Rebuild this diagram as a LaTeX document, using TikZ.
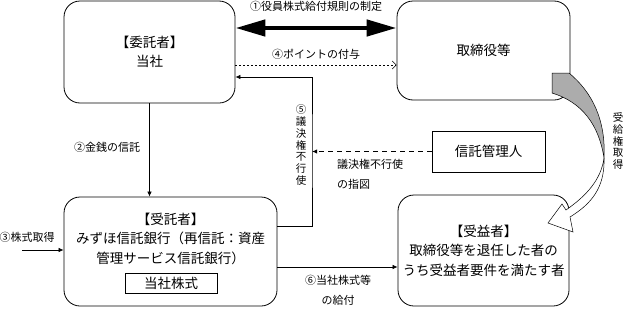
\documentclass[tikz,border=0pt]{standalone}
\usepackage{fontspec}
\newfontfamily\jpfont{Noto Sans CJK JP}
\usepackage{tikz}
\usetikzlibrary{arrows.meta, positioning, calc}

\begin{document}
\begin{tikzpicture}[
      x=1pt, y=-1pt,
      font=\jpfont\fontsize{13.5}{19.5}\selectfont,
      party/.style={draw, rounded corners=16pt, align=center, inner sep=0pt,
                    line width=0.8pt},
      plainbox/.style={draw, align=center, inner sep=0pt, line width=0.8pt},
      lbl/.style={font=\jpfont\fontsize{11}{20}\selectfont, inner sep=1pt},
      vlbl/.style={font=\jpfont\fontsize{10.5}{11.8}\selectfont, align=center,
                   inner sep=0pt},
      a/.style={line width=0.7pt, -{Latex[length=5pt,width=4.5pt]}},
    ]
    \useasboundingbox (0,0) rectangle (623,308);

    % ---- parties ----
    \node[party, minimum width=171pt, minimum height=102pt] (itaku) at (149.5,52)
         {【委託者】\\当社};
    \node[party, minimum width=173pt, minimum height=99pt] (torishimari) at (483.5,50.5)
         {取締役等};
    \node[party, minimum width=213pt, minimum height=109pt] (jutaku) at (170.5,251.5) {};
    \node[align=center, inner sep=0pt] (jutakutxt) at (170.5,238.5)
         {【受託者】\\みずほ信託銀行（再信託：資産\\管理サービス信託銀行）};
    \node[plainbox, minimum width=92pt, minimum height=20pt] (kabu) at (171,283)
         {当社株式};
    \node[party, minimum width=171pt, minimum height=111pt] (juekisha) at (483.5,250.5)
         {【受益者】\\取締役等を退任した者の\\うち受益者要件を満たす者};
    \node[plainbox, minimum width=113pt, minimum height=41pt] (kanrinin) at (488.5,151.5)
         {信託管理人};

    % ---- helper points ----
    \coordinate (vbar) at (312,150);
    \coordinate (src) at (22,250);

    % ---- arcs ----
    \draw[line width=4.5pt, {Triangle[length=30pt,width=16pt]}-{Triangle[length=30pt,width=16pt]}]
      ([yshift=24pt]itaku.east) -- node[lbl, above=13pt] (l1) {①役員株式給付規則の制定}
      ([yshift=22.5pt]torishimari.west);
    \draw[line width=0.6pt, dash pattern=on 2pt off 2pt, -{Straight Barb[length=4pt,width=8pt]}]
      ([yshift=-13pt]itaku.east) -- node[lbl, above=4pt] (l4) {④ポイントの付与}
      ([yshift=-14.5pt]torishimari.west);
    \draw[a] (itaku.south) -- node[lbl, left=8pt, pos=0.47] (l2) {②金銭の信託}
      (itaku.south |- jutaku.north);
    \draw[a] (src) -- (src -| jutaku.west);
    \node[lbl] (l3) at (27,237) {③株式取得};
    \draw[a] ([yshift=25.5pt]jutaku.east) -| (vbar) |- ([yshift=-25pt]itaku.east);
    \node[vlbl] (l5) at (301,145) {⑤\\議\\決\\権\\不\\行\\使};
    \draw[a, line width=1pt, dash pattern=on 5pt off 4pt] (kanrinin.west) -- (vbar |- kanrinin.west);
    \node[lbl, anchor=west, align=left] (l7) at (336,174) {議決権不行使\\の指図};
    \draw[a] ([yshift=-15.5pt]jutaku.east) -- ([yshift=-16.5pt]juekisha.west);
    \node[lbl, align=center] (l6) at (338,290) {⑥当社株式等\\の給付};

    % curved arrow: vesting of the benefit right
    \filldraw[fill=gray!65, line width=0.5pt]
      (552,73) -- (569,73) .. controls (592,92) and (606,120) .. (604,158)
      .. controls (599,125) and (582,102) .. (552,93) -- cycle;
    \filldraw[fill=white, line width=0.5pt]
      (604,158) .. controls (605,188) and (591,204) .. (570,217) -- (573,232)
      -- (548,223) -- (562,204) -- (566,210) .. controls (586,196) and (601,180) .. (604,158)
      -- cycle;
    \node[vlbl] (l8) at (618,141) {受\\給\\権\\取\\得};
  \end{tikzpicture}
\end{document}
